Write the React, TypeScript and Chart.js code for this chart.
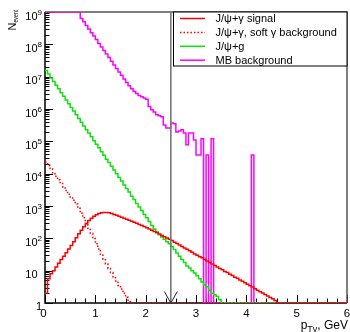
import { useEffect, useRef } from 'react';
import { Chart, registerables } from 'chart.js';

Chart.register(...registerables);

// ---- data (one value per 0.05 GeV bin, starting at p_T = 0) ----
const BIN_WIDTH = 0.05;
const X_MIN = 0;
const X_MAX = 6;
const Y_MIN = 1;
const Y_MAX = 1e9;
const X_TICK_LABELS = ['0', '1', '2', '3', '4', '5', '6'];
const Y_TICK_EXPONENTS = [0, 1, 2, 3, 4, 5, 6, 7, 8, 9];
const CUT_X = 2.5;

const SERIES_NAMES = [
  'J/\u03c8+\u03b3 signal',
  'J/\u03c8+\u03b3, soft \u03b3 background',
  'J/\u03c8+g',
  'MB background',
];

const SIGNAL = [
  2, 5.6, 8, 10, 13, 17, 22, 28, 36, 47,
  60, 79, 105, 138, 178, 229, 282, 355, 417, 479,
  537, 589, 617, 631, 631, 617, 589, 550, 513, 479,
  447, 417, 389, 363, 339, 316, 295, 269, 251, 234,
  214, 195, 178, 162, 148, 135, 123, 112, 102, 93,
  85, 76, 69, 62, 56, 50, 46, 41, 37, 33,
  30, 27, 25, 22, 20, 18, 16, 14.5, 13, 11.7,
  10.7, 9.5, 8.7, 7.8, 7.1, 6.3, 5.8, 5.1, 4.7, 4.2,
  3.8, 3.4, 3.1, 2.75, 2.5, 2.24, 2.04, 1.82, 1.66, 1.48,
  1.35, 1.2, 0, 0, 0, 0, 0, 0, 0, 0,
  0, 0, 0, 0, 0, 0, 0, 0, 0, 0,
  0, 0, 0, 0, 0, 0, 0, 0, 0, 0,
];

const SOFT_GAMMA_BG = [
  2.3e4, 1.8e4, 1.4e4, 1.07e4, 8.3e3, 6.5e3, 5.0e3, 3.9e3, 3.0e3, 2.3e3,
  1.9e3, 1.5e3, 1.15e3, 850, 600, 430, 295, 204, 141, 98,
  68, 47, 32, 23, 16, 11.7, 8.7, 6.5, 4.8, 3.5,
  2.7, 2, 1.5, 1.1, 0, 0, 0, 0, 0, 0,
  0, 0, 0, 0, 0, 0, 0, 0, 0, 0,
  0, 0, 0, 0, 0, 0, 0, 0, 0, 0,
  0, 0, 0, 0, 0, 0, 0, 0, 0, 0,
  0, 0, 0, 0, 0, 0, 0, 0, 0, 0,
  0, 0, 0, 0, 0, 0, 0, 0, 0, 0,
  0, 0, 0, 0, 0, 0, 0, 0, 0, 0,
  0, 0, 0, 0, 0, 0, 0, 0, 0, 0,
  0, 0, 0, 0, 0, 0, 0, 0, 0, 0,
];

const JPSI_G = [
  1.55e7, 1.2e7, 9.1e6, 7.1e6, 5.4e6, 4.2e6, 3.2e6, 2.5e6, 1.9e6, 1.45e6,
  1.12e6, 8.7e5, 6.6e5, 5.1e5, 3.9e5, 3.0e5, 2.3e5, 1.8e5, 1.38e5, 1.05e5,
  8.1e4, 6.3e4, 4.8e4, 3.7e4, 2.8e4, 2.2e4, 1.7e4, 1.3e4, 1.0e4, 7.6e3,
  5.9e3, 4.5e3, 3.5e3, 2.7e3, 2.0e3, 1.6e3, 1.2e3, 930, 720, 550,
  430, 330, 250, 195, 160, 130, 110, 93, 79, 68,
  56, 45, 35, 28, 22, 18, 14, 12, 10, 8.5,
  7, 5.6, 4.5, 3.6, 3.2, 2.5, 2, 1.8, 1.6, 1.25,
  0, 0, 0, 0, 0, 0, 0, 0, 0, 0,
  0, 0, 0, 0, 0, 0, 0, 0, 0, 0,
  0, 0, 0, 0, 0, 0, 0, 0, 0, 0,
  0, 0, 0, 0, 0, 0, 0, 0, 0, 0,
  0, 0, 0, 0, 0, 0, 0, 0, 0, 0,
];

const MB_BG = [
  1e9, 1e9, 1e9, 1e9, 1e9, 1e9, 1e9, 1e9, 1e9, 1e9,
  1e9, 1e9, 1e9, 1e9, 6.3e8, 5.0e8, 3.8e8, 3.0e8, 2.3e8, 1.8e8,
  1.4e8, 1.07e8, 8.3e7, 6.5e7, 5.0e7, 3.9e7, 3.0e7, 2.3e7, 1.8e7, 1.4e7,
  1.1e7, 8.5e6, 6.6e6, 5.2e6, 4.2e6, 3.5e6, 3.0e6, 2.6e6, 2.4e6, 2.2e6,
  2.0e6, 1.2e6, 9.5e5, 8.1e5, 6.6e5, 6.2e5, 5.8e5, 3.2e5, 2.6e5, 2.6e5,
  3.7e5, 3.5e5, 1.95e5, 2.1e5, 2.3e5, 1.8e5, 7.8e4, 1.8e5, 1.8e5, 1.1e5,
  3.8e4, 3.8e4, 1.2e5, 0, 3.8e4, 0, 1.2e5, 0, 0, 0,
  0, 0, 0, 0, 0, 0, 0, 0, 0, 0,
  0, 0, 3.8e4, 0, 0, 0, 0, 0, 0, 0,
  0, 0, 0, 0, 0, 0, 0, 0, 0, 0,
  0, 0, 0, 0, 0, 0, 0, 0, 0, 0,
  0, 0, 0, 0, 0, 0, 0, 0, 0, 0,
];

const COLORS = ['#ff0000', '#ff0000', '#10e010', '#ff00ff'];
const DASHES: number[][] = [[], [1.5, 2], [], []];

const FONT = '"Liberation Sans", Arial, Helvetica, sans-serif';

// histogram -> stepped polyline points (left edge of each bin + closing edge)
function toPoints(values: number[]) {
  const pts = values.map((v, i) => ({ x: i * BIN_WIDTH, y: v > 0 ? v : Y_MIN }));
  const last = values[values.length - 1];
  pts.push({ x: values.length * BIN_WIDTH, y: last > 0 ? last : Y_MIN });
  return pts;
}

const rootStylePlugin = {
  id: 'rootStyle',
  beforeDatasetsDraw(chart: any) {
    const { ctx, chartArea: a, scales } = chart;
    const xs = scales.x;
    const ys = scales.y;
    ctx.save();
    ctx.strokeStyle = '#000';
    ctx.lineWidth = 1;
    ctx.beginPath();
    Y_TICK_EXPONENTS.forEach((d) => {
      const y = Math.round(ys.getPixelForValue(Math.pow(10, d))) + 0.5;
      ctx.moveTo(a.left, y);
      ctx.lineTo(a.left + 8, y);
      if (d < 9) {
        for (let m = 2; m <= 9; m++) {
          const ym = Math.round(ys.getPixelForValue(m * Math.pow(10, d))) + 0.5;
          ctx.moveTo(a.left, ym);
          ctx.lineTo(a.left + 4.5, ym);
        }
      }
    });
    for (let k = 0; k <= 30; k++) {
      const x = Math.round(xs.getPixelForValue(k * 0.2)) + 0.5;
      const len = k % 5 === 0 ? 8 : 4.5;
      ctx.moveTo(x, a.bottom);
      ctx.lineTo(x, a.bottom - len);
    }
    ctx.stroke();

    ctx.lineWidth = 1.5;
    ctx.strokeStyle = '#555';
    ctx.beginPath();
    ctx.moveTo(a.left, a.top);
    ctx.lineTo(a.right, a.top);
    ctx.lineTo(a.right, a.bottom);
    ctx.stroke();
    ctx.strokeStyle = '#000';
    ctx.beginPath();
    ctx.moveTo(a.left, a.top);
    ctx.lineTo(a.left, a.bottom);
    ctx.lineTo(a.right, a.bottom);
    ctx.stroke();
    ctx.restore();
  },
  afterDatasetsDraw(chart: any) {
    const { ctx, chartArea: a, scales } = chart;
    const xs = scales.x;
    const ys = scales.y;
    ctx.save();

    // cut line with arrow
    const xc = xs.getPixelForValue(CUT_X);
    ctx.strokeStyle = '#777';
    ctx.lineWidth = 1.6;
    ctx.beginPath();
    ctx.moveTo(xc, a.top);
    ctx.lineTo(xc, a.bottom);
    ctx.stroke();
    ctx.strokeStyle = '#222';
    ctx.lineWidth = 1;
    ctx.beginPath();
    ctx.moveTo(xc - 6.5, a.bottom - 11.5);
    ctx.lineTo(xc, a.bottom);
    ctx.lineTo(xc + 6.5, a.bottom - 11.5);
    ctx.stroke();

    // y tick labels
    ctx.fillStyle = '#000';
    ctx.textBaseline = 'alphabetic';
    Y_TICK_EXPONENTS.forEach((d) => {
      const y = ys.getPixelForValue(Math.pow(10, d));
      if (d === 0) {
        ctx.font = `11px ${FONT}`;
        ctx.textAlign = 'right';
        ctx.fillText('1', 42, y + 6.5);
      } else {
        ctx.font = `11px ${FONT}`;
        ctx.textAlign = 'right';
        ctx.fillText('10', 37.5, y + 7.5);
        if (d > 1) {
          ctx.font = `8px ${FONT}`;
          ctx.textAlign = 'left';
          ctx.fillText(String(d), 37.5, y + 3);
        }
      }
    });

    // x tick labels
    ctx.font = `11.5px ${FONT}`;
    ctx.textAlign = 'center';
    X_TICK_LABELS.forEach((t, i) => {
      const x = xs.getPixelForValue(Number(t));
      ctx.fillText(t, i === 0 ? x - 1.5 : x, a.bottom + 13.5);
    });

    // x title: p_{Tγ}, GeV
    ctx.textAlign = 'left';
    ctx.font = `12px ${FONT}`;
    const wP = ctx.measureText('p').width;
    const wRest = ctx.measureText(', GeV').width;
    ctx.font = `9px ${FONT}`;
    const wSub = ctx.measureText('T\u03b3').width;
    let xt = 348 - (wP + wSub + wRest);
    const yb = 329;
    ctx.font = `12px ${FONT}`;
    ctx.fillText('p', xt, yb);
    xt += wP;
    ctx.font = `9px ${FONT}`;
    ctx.fillText('T\u03b3', xt, yb + 3);
    xt += wSub;
    ctx.font = `12px ${FONT}`;
    ctx.fillText(', GeV', xt, yb);

    // y title: N_event (rotated)
    ctx.save();
    ctx.translate(16, 30.5);
    ctx.rotate(-Math.PI / 2);
    ctx.font = `11px ${FONT}`;
    ctx.textAlign = 'left';
    ctx.fillText('N', 0, 0);
    const wN = ctx.measureText('N').width;
    ctx.translate(wN, 1.5);
    ctx.scale(0.75, 1);
    ctx.font = `7px ${FONT}`;
    ctx.fillText('event', 0, 0);
    ctx.restore();

    // legend
    const lx0 = 173.5;
    const ly0 = a.top;
    const lx1 = a.right;
    const ly1 = 66;
    ctx.fillStyle = '#fff';
    ctx.fillRect(lx0, ly0, lx1 - lx0, ly1 - ly0);
    ctx.strokeStyle = '#000';
    ctx.lineWidth = 1;
    ctx.strokeRect(lx0, ly0, lx1 - lx0, ly1 - ly0);
    const dsets = chart.data.datasets;
    dsets.forEach((ds: any, i: number) => {
      const y = ly0 + 6.5 + 13.9 * i;
      ctx.strokeStyle = ds.borderColor;
      ctx.lineWidth = ds.borderWidth;
      ctx.setLineDash(ds.borderDash || []);
      ctx.beginPath();
      ctx.moveTo(180, y);
      ctx.lineTo(205, y);
      ctx.stroke();
      ctx.setLineDash([]);
      ctx.fillStyle = '#000';
      ctx.font = `11px ${FONT}`;
      ctx.textAlign = 'left';
      ctx.textBaseline = 'middle';
      ctx.fillText(ds.label, 215.5, y + 0.5);
    });
    ctx.restore();
  },
};

export default function App() {
  const ref = useRef<HTMLCanvasElement>(null);
  useEffect(() => {
    const canvas = ref.current;
    if (!canvas) return;
    const seriesValues = [SIGNAL, SOFT_GAMMA_BG, JPSI_G, MB_BG];
    const chart = new Chart(canvas, {
      type: 'line',
      data: {
        datasets: seriesValues.map((vals, i) => ({
          label: SERIES_NAMES[i],
          data: toPoints(vals),
          borderColor: COLORS[i],
          borderWidth: 1.5,
          borderDash: DASHES[i],
          stepped: true,
          pointRadius: 0,
          fill: false,
          tension: 0,
        })),
      },
      options: {
        animation: false,
        responsive: false,
        maintainAspectRatio: false,
        layout: { padding: { left: 45, right: 3, top: 12, bottom: 29 } },
        scales: {
          x: { type: 'linear', min: X_MIN, max: X_MAX, display: false },
          y: { type: 'logarithmic', min: Y_MIN, max: Y_MAX, display: false },
        },
        plugins: { legend: { display: false }, tooltip: { enabled: false } },
        events: [],
      },
      plugins: [rootStylePlugin],
    } as any);
    return () => chart.destroy();
  }, []);
  return (
    <div style={{ position: 'absolute', left: 0, top: 0, width: 350, height: 332, background: '#fff' }}>
      <canvas ref={ref} width={350} height={332} style={{ display: 'block', width: 350, height: 332 }} />
    </div>
  );
}
